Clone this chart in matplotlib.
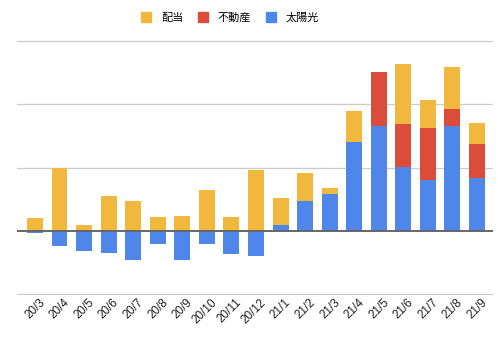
import numpy as np
import matplotlib
matplotlib.use("Agg")
from matplotlib import pyplot as plt
from matplotlib.patches import Patch
from matplotlib.transforms import ScaledTranslation

plt.rcParams['font.family'] = ['Noto Sans CJK JP', 'DejaVu Sans']

# 月ラベル
months = ['20/3', '20/4', '20/5', '20/6', '20/7', '20/8', '20/9', '20/10', '20/11', '20/12',
          '21/1', '21/2', '21/3', '21/4', '21/5', '21/6', '21/7', '21/8', '21/9']

# 値（グリッド1目盛り = 1）
solar = [-0.03, -0.24, -0.31, -0.35, -0.45, -0.21, -0.46, -0.21, -0.37, -0.40,
         0.10, 0.48, 0.58, 1.40, 1.65, 1.01, 0.81, 1.65, 0.83]
realestate = [0, 0, 0, 0, 0, 0, 0, 0, 0, 0,
              0, 0, 0, 0, 0.85, 0.67, 0.81, 0.28, 0.54]
dividend = [0.20, 0.99, 0.09, 0.55, 0.48, 0.22, 0.24, 0.65, 0.22, 0.96,
            0.42, 0.43, 0.10, 0.49, 0, 0.95, 0.44, 0.66, 0.33]

c_div = '#F2B83E'
c_re = '#DB4C3A'
c_sol = '#4E87E9'

x = np.arange(len(months))
solar = np.array(solar)
realestate = np.array(realestate)
dividend = np.array(dividend)
pos_solar = np.clip(solar, 0, None)

fig = plt.figure(figsize=(5, 3.37), dpi=100)
ax = fig.add_axes([0.034, 0.1246, 0.952, 0.7564])

w = 0.65
ax.bar(x, solar, w, color=c_sol, zorder=2)
ax.bar(x, realestate, w, bottom=pos_solar, color=c_re, zorder=2)
ax.bar(x, dividend, w, bottom=pos_solar + realestate, color=c_div, zorder=2)

ax.set_xlim(-0.73, len(months) - 1 + 0.65)
ax.set_ylim(-1.01, 3.01)
ax.set_yticks([-1, 1, 2, 3])
ax.yaxis.grid(True, color='#cccccc', linewidth=0.9, zorder=0)
ax.axhline(0, color='#666666', linewidth=1.4, zorder=3)
ax.tick_params(axis='y', left=False, labelleft=False)
ax.tick_params(axis='x', length=0, pad=4)
ax.set_xticks(x)
ax.set_xticklabels(months, rotation=45, ha='right', va='center', rotation_mode='anchor',
                   fontsize=8.5, color='#222222', family=['Liberation Sans', 'DejaVu Sans'])
# ラベルを少し右にずらす
off = ScaledTranslation(6 / 72, 0, fig.dpi_scale_trans)
for lbl in ax.get_xticklabels():
    lbl.set_transform(lbl.get_transform() + off)
for s in ax.spines.values():
    s.set_visible(False)

handles = [Patch(color=c_div, label='配当'),
           Patch(color=c_re, label='不動産'),
           Patch(color=c_sol, label='太陽光')]
fig.legend(handles=handles, loc='center', bbox_to_anchor=(0.46, 0.948), ncol=3,
           frameon=False, fontsize=8, handlelength=0.9, handleheight=0.9,
           handletextpad=0.9, columnspacing=1.3)

plt.savefig('out.png', dpi=100)
